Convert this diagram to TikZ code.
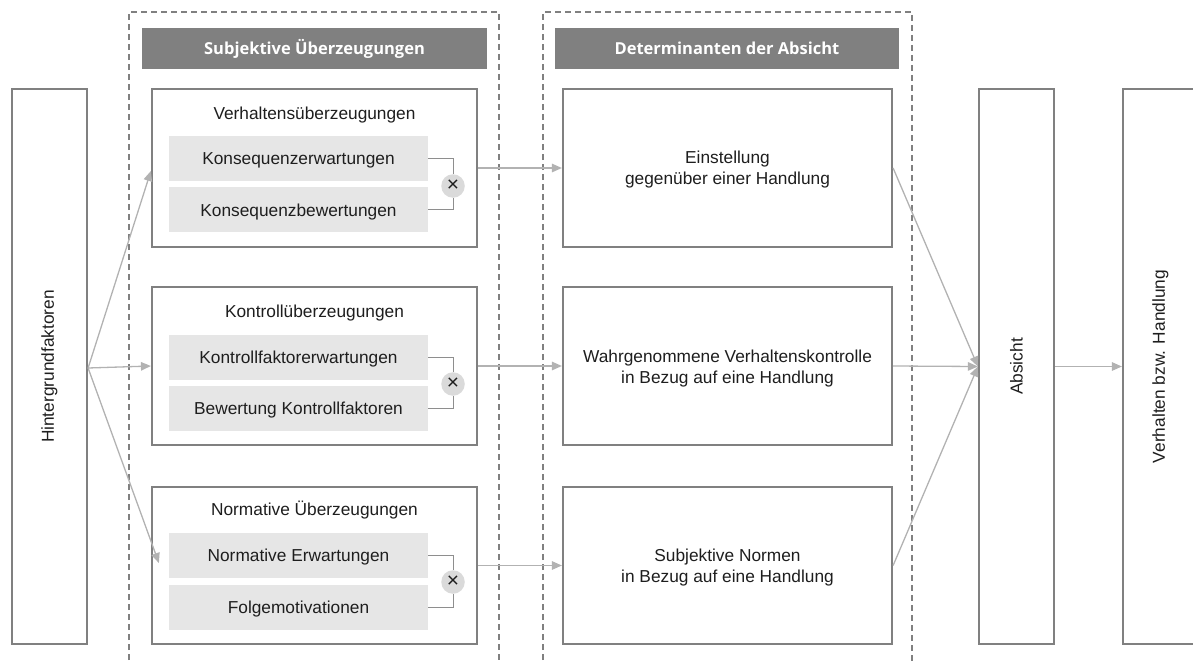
\documentclass[tikz,border=0pt]{standalone}
\usepackage{fontspec}
\setmainfont{Liberation Sans}
\newfontfamily\headfont{Open Sans}
\usetikzlibrary{arrows.meta,positioning}

\definecolor{boxgray}{HTML}{808080}
\definecolor{linegray}{HTML}{B2B2B2}
\definecolor{subgray}{HTML}{E6E6E6}
\definecolor{txtblack}{HTML}{1E1E1E}

\tikzset{
  bigbox/.style={draw=boxgray, line width=2.2pt, fill=white, inner sep=0pt},
  subbox/.style={fill=subgray, inner sep=0pt, minimum width=259pt, minimum height=45pt,
    text height=12.3pt, text depth=0pt},
  headbar/.style={fill=boxgray, inner sep=0pt, minimum width=345pt, minimum height=41pt,
    text height=12pt, text depth=0pt,
    text=white, font=\headfont\bfseries\fontsize{16.5}{18}\selectfont},
  txt/.style={text=txtblack, font=\fontsize{17.3}{20.5}\selectfont, align=center},
  title/.style={txt, text height=12.3pt, text depth=0pt},
  times/.style={circle, fill=subgray!95!black, inner sep=0pt, minimum size=23.5pt,
    text=txtblack, font=\fontsize{21}{21}\selectfont},
  dashbox/.style={draw=boxgray, line width=1.6pt, dash pattern=on 6pt off 4pt},
  flow/.style={draw=linegray, line width=1.3pt, -{Triangle[length=10pt,width=8.5pt]}},
  bracket/.style={draw=linegray!80!black, line width=1pt}
}

\begin{document}
\begin{tikzpicture}[x=1pt, y=-1pt]
\useasboundingbox (0,0) rectangle (1193,661);

% frames of the two middle columns
\draw [dashbox] (129,670) -- (129,12) -- (499,12) -- (499,670);
\draw [dashbox] (543,670) -- (543,12) -- (912,12) -- (912,670);
\node [headbar] (head1) at (314.5,48.5) {Subjektive Überzeugungen};
\node [headbar, minimum width=344pt] (head2) at (727,48.5) {Determinanten der Absicht};

% left and right columns
\node [bigbox, minimum width=75pt, minimum height=555pt] (hint) at (49.5,366.5) {};
\node [txt, rotate=90] (hinttxt) at (hint.center) {Hintergrundfaktoren};
\node [bigbox, minimum width=75pt, minimum height=555pt] (abs) at (1016.5,366.5) {};
\node [txt, rotate=90] (abstxt) at (abs.center) {Absicht};
\node [bigbox, minimum width=75pt, minimum height=555pt] (verh) at (1160.5,366.5) {};
\node [txt, rotate=90] (verhtxt) at (verh.center) {Verhalten bzw. Handlung};

% subjective beliefs
\node [bigbox, minimum width=325pt, minimum height=158pt] (grp1) at (314.5,168) {};
\node [title] (grp1t) at ([yshift=-25pt]grp1.north) {Verhaltensüberzeugungen};
\node [subbox, txt] (ka) at ([xshift=-16pt,yshift=-70.5pt]grp1.north) {Konsequenzerwartungen};
\node [subbox, txt] (kb) at ([xshift=-16pt,yshift=-122pt]grp1.north) {Konsequenzbewertungen};
\node [times] (x1) at (453,186) {×};

\node [bigbox, minimum width=325pt, minimum height=158pt] (grp2) at (314.5,366) {};
\node [title] (grp2t) at ([yshift=-25pt]grp2.north) {Kontrollüberzeugungen};
\node [subbox, txt] (ca) at ([xshift=-16pt,yshift=-71.5pt]grp2.north) {Kontrollfaktorerwartungen};
\node [subbox, txt] (cb) at ([xshift=-16pt,yshift=-122.5pt]grp2.north) {Bewertung Kontrollfaktoren};
\node [times] (x2) at (453,384) {×};

\node [bigbox, minimum width=325pt, minimum height=157pt] (grp3) at (314.5,565.5) {};
\node [title] (grp3t) at ([yshift=-23pt]grp3.north) {Normative Überzeugungen};
\node [subbox, txt] (na) at ([xshift=-16pt,yshift=-69.5pt]grp3.north) {Normative Erwartungen};
\node [subbox, txt] (nb) at ([xshift=-16pt,yshift=-121.5pt]grp3.north) {Folgemotivationen};
\node [times] (x3) at (453,582) {×};

\draw [bracket] (ka.east) -| (x1.north);
\draw [bracket] (kb.east) -| (x1.south);
\draw [bracket] (ca.east) -| (x2.north);
\draw [bracket] (cb.east) -| (x2.south);
\draw [bracket] (na.east) -| (x3.north);
\draw [bracket] (nb.east) -| (x3.south);

% determinants
\node [bigbox, minimum width=329pt, minimum height=158pt] (einst) at (727.5,168) {};
\node [txt] (einsttxt) at ([yshift=-1.5pt]einst.center) {Einstellung\\gegenüber einer Handlung};
\node [bigbox, minimum width=329pt, minimum height=158pt] (wahr) at (727.5,366) {};
\node [txt] (wahrtxt) at ([yshift=-2.5pt]wahr.center) {Wahrgenommene Verhaltenskontrolle\\in Bezug auf eine Handlung};
\node [bigbox, minimum width=329pt, minimum height=157pt] (norm) at (727.5,565.5) {};
\node [txt] (normtxt) at ([yshift=-2pt]norm.center) {Subjektive Normen\\in Bezug auf eine Handlung};

% arrows
\draw [flow] ([yshift=-1.5pt]hint.east) -- ([yshift=-3pt]grp1.west);
\draw [flow] ([yshift=-1.5pt]hint.east) -- (grp2.west);
\draw [flow] ([yshift=-1.5pt]hint.east) -- ([xshift=8pt,yshift=2.5pt]grp3.west);
\draw [flow] (grp1.east) -- (einst.west);
\draw [flow] (grp2.east) -- (wahr.west);
\draw [flow] (grp3.east) -- (norm.west);
\draw [flow] (einst.east) -- (abs.west);
\draw [flow] (wahr.east) -- (abs.west);
\draw [flow] (norm.east) -- (abs.west);
\draw [flow] (abs.east) -- (verh.west);
\end{tikzpicture}
\end{document}
